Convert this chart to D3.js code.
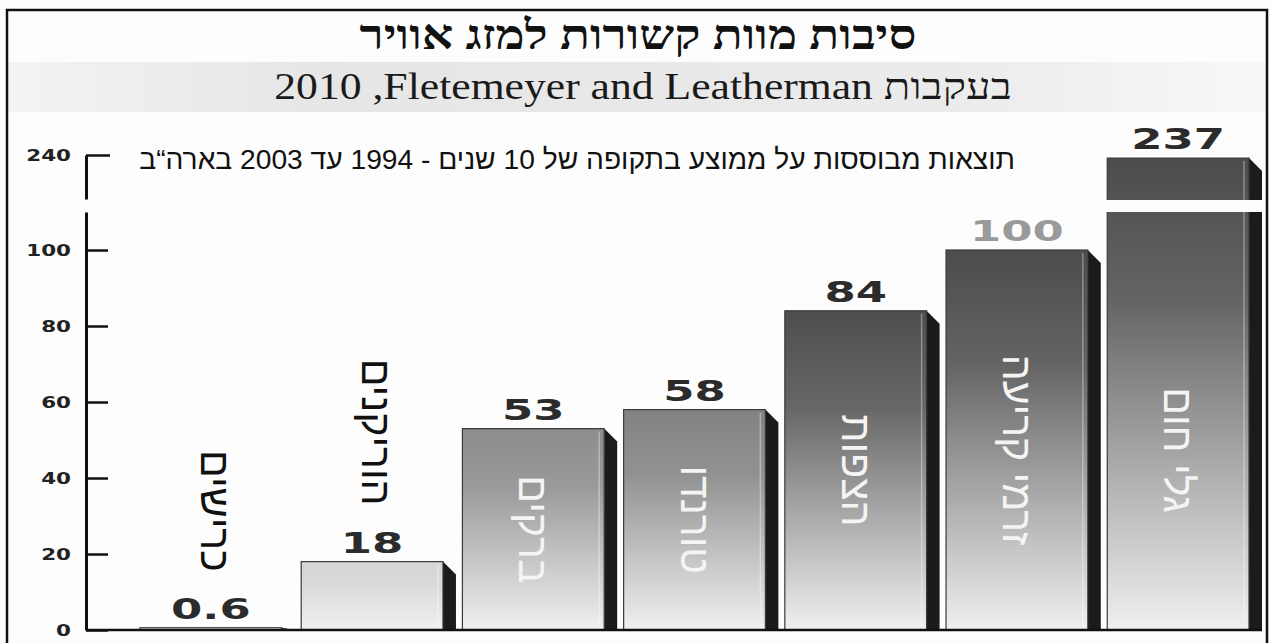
<!DOCTYPE html>
<html lang="he">
<head>
<meta charset="utf-8" />
<title>סיבות מוות קשורות למזג אוויר</title>
<script src="https://cdn.jsdelivr.net/npm/d3@7"></script>
<style>
  body { margin: 0; background: #fff; }
  svg { display: block; }
</style>
</head>
<body>
<script>
// data
var categories = ["כרישים", "הוריקנים", "ברקים", "טורנדו", "הצפות", "זרמי קריעה", "גלי חום"];
var values = [0.6, 18, 53, 58, 84, 100, 237];
var yTicksLow = [0, 20, 40, 60, 80, 100];
var yTicksHigh = [240];
var title = "סיבות מוות קשורות למזג אוויר";
var subtitle = "בעקבות Fletemeyer and Leatherman\u200F, 2010"; // RLM keeps the year on the left like the original
var note = "תוצאות מבוססות על ממוצע בתקופה של 10 שנים - 1994 עד 2003 בארה“ב";

var width = 1270, height = 643;
var axisX = 86, baseY = 630;
var breakValue = 110;
var sideW = 13;
var RLE = "\u202B", PDF = "\u202C"; // force right-to-left paragraph in svg text

var svg = d3.select("body").append("svg")
  .attr("width", width)
  .attr("height", height);

var defs = svg.append("defs");

// gray band behind the subtitle
var band = defs.append("linearGradient").attr("id", "band");
band.append("stop").attr("offset", 0).attr("stop-color", "#f3f3f3");
band.append("stop").attr("offset", 0.25).attr("stop-color", "#e6e6e6");
band.append("stop").attr("offset", 0.75).attr("stop-color", "#ebebeb");
band.append("stop").attr("offset", 1).attr("stop-color", "#f8f8f8");

svg.append("rect")
  .attr("x", 0).attr("y", 0).attr("width", width).attr("height", height)
  .attr("fill", "#fdfdfd");
svg.append("rect")
  .attr("x", 8).attr("y", 62).attr("width", 1258).attr("height", 50)
  .attr("fill", "url(#band)");

// frame
svg.append("rect")
  .attr("x", 7).attr("y", 10).attr("width", 1260).attr("height", 660)
  .attr("fill", "none").attr("stroke", "#111").attr("stroke-width", 2.5);

svg.append("text")
  .attr("transform", "translate(638,49) scale(1.2,1)")
  .attr("text-anchor", "middle")
  .attr("font-family", "Liberation Serif, DejaVu Serif, serif")
  .attr("font-weight", "bold")
  .attr("font-size", 41)
  .attr("fill", "#111")
  .text(title);

svg.append("text")
  .attr("transform", "translate(643,99) scale(1.18,1)")
  .attr("text-anchor", "middle")
  .attr("font-family", "Liberation Serif, serif")
  .attr("font-size", 37)
  .attr("fill", "#1a1a1a")
  .text(RLE + subtitle + PDF);

svg.append("text")
  .attr("x", 1015).attr("y", 169)
  .attr("text-anchor", "end")
  .attr("font-family", "Liberation Sans, Arial, sans-serif")
  .attr("font-size", 28.2)
  .attr("fill", "#111")
  .text(RLE + note + PDF);

// scales (broken axis)
var x = d3.scaleBand().domain(categories).range([140, 1262]).paddingInner(0.04).paddingOuter(0);
var yLow = d3.scaleLinear().domain([0, breakValue]).range([baseY, 212]);
var yHigh = d3.scaleLinear().domain([100, 240]).range([300, 155]);
function y(v) { return v > breakValue ? yHigh(v) : yLow(v); }

var topColor = d3.scaleLinear()
  .domain([0, 20, 55, 85])
  .range(["#eeeeee", "#d2d2d2", "#888888", "#4c4c4c"])
  .clamp(true);

values.forEach(function (v, i) {
  var gr = defs.append("linearGradient").attr("id", "bar" + i)
    .attr("x1", 0).attr("y1", 0).attr("x2", 0).attr("y2", 1);
  gr.append("stop").attr("offset", 0).attr("stop-color", topColor(v));
  gr.append("stop").attr("offset", 0.3).attr("stop-color", d3.interpolate(topColor(v), "#eeeeee")(0.15));
  gr.append("stop").attr("offset", 1).attr("stop-color", "#f0f0f0");
});

// bars
var bars = svg.append("g").selectAll("g")
  .data(values)
  .enter().append("g");

bars.append("path")
  .attr("fill", "#1b1b1b")
  .attr("d", function (d, i) {
    var x0 = x(categories[i]) + x.bandwidth() - sideW;
    var t = y(d);
    var c = Math.min(sideW, baseY - t);
    return "M" + x0 + "," + t + "L" + (x0 + sideW) + "," + (t + c) +
      "L" + (x0 + sideW) + "," + baseY + "L" + x0 + "," + baseY + "Z";
  });

bars.append("rect")
  .attr("x", function (d, i) { return x(categories[i]); })
  .attr("y", function (d) { return y(d); })
  .attr("width", x.bandwidth() - sideW)
  .attr("height", function (d) { return baseY - y(d); })
  .attr("fill", function (d, i) { return "url(#bar" + i + ")"; })
  .attr("stroke", "#3a3a3a")
  .attr("stroke-width", 1.2);

// thin highlight next to the dark side
bars.append("line")
  .attr("x1", function (d, i) { return x(categories[i]) + x.bandwidth() - sideW - 5; })
  .attr("x2", function (d, i) { return x(categories[i]) + x.bandwidth() - sideW - 5; })
  .attr("y1", function (d) { return y(d) + 3; })
  .attr("y2", baseY - 2)
  .attr("stroke", "#ffffff")
  .attr("stroke-opacity", 0.35)
  .attr("stroke-width", 1.5);

// gap in the broken bar
bars.filter(function (d) { return d > breakValue; })
  .append("rect")
  .attr("x", function (d) { return x(categories[values.indexOf(d)]) - 2; })
  .attr("y", 200)
  .attr("width", x.bandwidth() + 4)
  .attr("height", yLow(breakValue) - 200)
  .attr("fill", "#fdfdfd");

// value labels
bars.append("text")
  .attr("transform", function (d, i) {
    var cx = x(categories[i]) + (x.bandwidth() - sideW) / 2;
    return "translate(" + cx + "," + (y(d) - 9) + ") scale(1.55,1)";
  })
  .attr("text-anchor", "middle")
  .attr("font-family", "DejaVu Sans, sans-serif")
  .attr("font-weight", "bold")
  .attr("font-size", 29)
  .attr("fill", function (d) { return d === 100 ? "#9a9a9a" : "#2b2b2b"; })
  .text(function (d) { return String(d); });

// category labels, rotated
bars.append("text")
  .attr("transform", function (d, i) {
    var cx = x(categories[i]) + (x.bandwidth() - sideW) / 2 + (d < 30 ? 4 : 0);
    var cy = d < 30 ? y(d) - 56 : Math.max((y(d) + baseY) / 2, 450);
    return "translate(" + cx + "," + cy + ") rotate(90)";
  })
  .attr("text-anchor", function (d) { return d < 30 ? "end" : "middle"; })
  .attr("dominant-baseline", "central")
  .attr("font-family", "Liberation Sans, Arial, sans-serif")
  .attr("font-size", 41)
  .attr("fill", function (d) { return d < 30 ? "#111" : "#f4f4f4"; })
  .text(function (d, i) { return categories[i]; });

// axes
var axisLow = d3.axisLeft(yLow).tickValues(yTicksLow).tickSizeInner(-22).tickSizeOuter(0).tickPadding(15);
var yHighPart = yHigh.copy().domain([yHigh.invert(199), 240]).range([199, 155]);
var axisHigh = d3.axisLeft(yHighPart).tickValues(yTicksHigh).tickSizeInner(-24).tickSizeOuter(0).tickPadding(15);

[axisLow, axisHigh].forEach(function (ax) {
  var g = svg.append("g")
    .attr("transform", "translate(" + axisX + ",0)")
    .call(ax);
  g.select(".domain").attr("stroke", "#111").attr("stroke-width", 3);
  g.selectAll(".tick line").attr("stroke", "#111").attr("stroke-width", 2.5);
  g.selectAll(".tick text")
    .attr("font-family", "DejaVu Sans, sans-serif")
    .attr("font-weight", "bold")
    .attr("font-size", 16.5)
    .attr("fill", "#222")
    .attr("x", -15 / 1.3)
    .attr("transform", "scale(1.3,1)");
});

// baseline
svg.append("line")
  .attr("x1", axisX).attr("x2", x.range()[1])
  .attr("y1", baseY).attr("y2", baseY)
  .attr("stroke", "#111").attr("stroke-width", 2.5);
</script>
</body>
</html>
